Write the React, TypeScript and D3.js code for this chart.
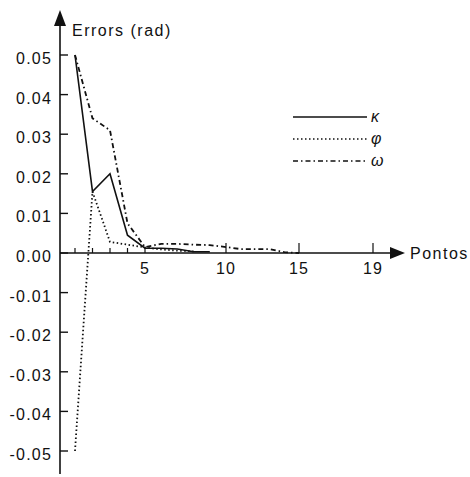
import React from "react";
import * as d3 from "d3";

// pontos 1..15
const pontos = [1, 2, 3, 4, 5, 6, 7, 8, 9, 10, 11, 12, 13, 14, 15];
const kappa = [0.05, 0.0155, 0.02, 0.0045, 0.0012, 0.0012, 0.001, 0.0003, 0.0003];
const phi = [-0.05, 0.0155, 0.0028, 0.0021, 0.0014, 0.0009, 0.0006, 0.0004];
const omega = [0.05, 0.034, 0.031, 0.0075, 0.0015, 0.0023, 0.0023, 0.0021, 0.002, 0.0015, 0.001, 0.001, 0.001, 0.0002, 0];

const yTicks = [0.05, 0.04, 0.03, 0.02, 0.01, 0, -0.01, -0.02, -0.03, -0.04, -0.05];
const xMinor = [1, 2, 3, 4, 5];
const xLabelled = [5, 10, 15, 19];
const legend = [
  { name: "κ", dash: "none" },
  { name: "φ", dash: "1.5 2.5" },
  { name: "ω", dash: "5 3 1.5 3" },
];

const font = "'Liberation Sans', Arial, sans-serif";

export default function App() {
  const x = d3.scaleLinear().domain([1, 5, 10, 15, 19]).range([75, 145, 226, 299, 373]);
  const y = d3.scaleLinear().domain([0, 0.05]).range([253, 55]);
  const x0 = 60;

  const line = d3
    .line<number>()
    .x((_, i) => x(pontos[i]))
    .y((d) => y(d));

  const series = [kappa, phi, omega];

  return (
    <svg width={470} height={477} style={{ position: "absolute", left: 0, top: 0, background: "#fff" }}>
      {/* axes */}
      <line x1={x0} x2={x0} y1={18} y2={474} stroke="#111" strokeWidth={1.6} />
      <path d={`M${x0},10 L${x0 - 6},26 L${x0 + 6},26 Z`} fill="#111" />
      <line x1={x0} x2={395} y1={y(0)} y2={y(0)} stroke="#111" strokeWidth={1.6} />
      <path d={`M405,${y(0)} L390,${y(0) - 6} L390,${y(0) + 6} Z`} fill="#111" />

      {yTicks.map((t) => (
        <g key={t}>
          <line x1={x0} x2={x0 + 8} y1={y(t)} y2={y(t)} stroke="#111" strokeWidth={1.4} />
          <text
            x={52}
            y={y(t) + 9}
            textAnchor="end"
            fontFamily={font}
            fontSize={16}
            letterSpacing={1.2}
            fill="#111"
          >
            {t.toFixed(2)}
          </text>
        </g>
      ))}

      {xMinor.map((t) => (
        <line key={"m" + t} x1={x(t)} x2={x(t)} y1={y(0) - 5} y2={y(0)} stroke="#111" strokeWidth={1.2} />
      ))}
      {xLabelled.map((t) => (
        <g key={"x" + t}>
          {t !== 5 && (
            <line x1={x(t)} x2={x(t)} y1={y(0) - 10} y2={y(0)} stroke="#111" strokeWidth={1.2} />
          )}
          <text
            x={x(t)}
            y={y(0) + 21}
            textAnchor="middle"
            fontFamily={font}
            fontSize={16}
            letterSpacing={1.2}
            fill="#111"
          >
            {t}
          </text>
        </g>
      ))}

      <text x={72} y={36} fontFamily={font} fontSize={16} letterSpacing={1.5} fill="#111">
        Errors (rad)
      </text>
      <text x={410} y={y(0) + 6} fontFamily={font} fontSize={16} letterSpacing={1.5} fill="#111">
        Pontos
      </text>

      {/* series */}
      {series.map((s, i) => (
        <path
          key={i}
          d={line(s) ?? ""}
          fill="none"
          stroke="#111"
          strokeWidth={i === 0 ? 1.6 : 1.8}
          strokeDasharray={legend[i].dash}
        />
      ))}

      {/* legend */}
      {legend.map((l, i) => (
        <g key={l.name} transform={`translate(293, ${117 + i * 22})`}>
          <line x1={0} x2={74} y1={0} y2={0} stroke="#111" strokeWidth={1.6} strokeDasharray={l.dash} />
          <text x={78} y={5} fontFamily={font} fontSize={16} fontStyle="italic" fill="#111">
            {l.name}
          </text>
        </g>
      ))}
    </svg>
  );
}
